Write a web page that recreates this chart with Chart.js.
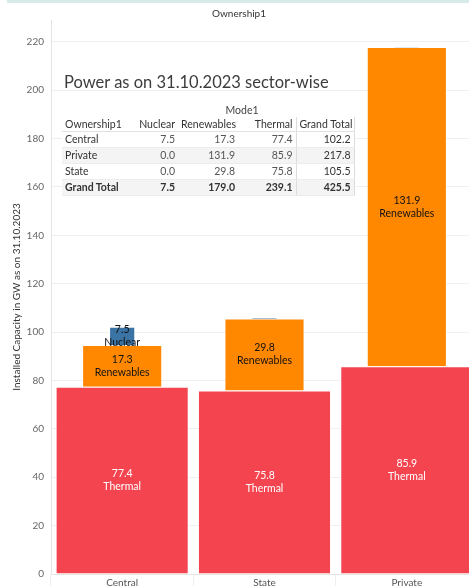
<!DOCTYPE html>
<html lang="en">
<head>
  <meta charset="UTF-8">
  <title>Power as on 31.10.2023 sector-wise</title>
  <script src="https://cdn.jsdelivr.net/npm/chart.js"></script>
  <style>
    html, body { margin: 0; padding: 0; background: #fff; overflow: hidden; width: 469px; height: 587px; }
    body { position: relative; font-family: Lato, "Open Sans", sans-serif; }
    #topBand { position: absolute; left: 7px; top: 0; width: 470px; height: 3px; background: #d7ecea; z-index: 2; }
    #wrap { position: absolute; left: 0; top: 0; width: 478px; height: 587px; }
    #heading { position: absolute; left: 64px; top: 72px; font-size: 16.5px; color: #3c3c3c; white-space: nowrap; }
    #summary { position: absolute; left: 62px; top: 103px; width: 292px; border-collapse: collapse; table-layout: fixed;
               background: #fff; font-size: 10.5px; color: #333; }
    #summary td, #summary th { padding: 0 3px; font-weight: normal; white-space: nowrap; overflow: hidden; }
    #summary .mode td { height: 14px; line-height: 14px; text-align: center; color: #444; }
    #summary .head th { height: 14px; line-height: 14px; border-bottom: 1px solid #e2e2e2; }
    #summary .row td { height: 15px; line-height: 15px; border-bottom: 1px solid #ececec; }
    #summary .alt td { background: #f4f4f4; }
    #summary .num { text-align: right; color: #555; }
    #summary .tot { text-align: right; border-left: 1px solid #dcdcdc; border-right: 1px solid #dcdcdc; color: #333; }
    #summary .gt td { font-weight: bold; color: #333; }
  </style>
</head>
<body>
  <div id="topBand"></div>
  <div id="wrap"><canvas id="capacityChart" width="478" height="587"></canvas></div>
  <div id="heading">Power as on 31.10.2023 sector-wise</div>
  <table id="summary"></table>

  <script>
    // installed capacity (GW) by ownership and mode
    const categories = ['Central', 'State', 'Private'];
    const thermal = [77.4, 75.8, 85.9];
    const renewables = [17.3, 29.8, 131.9];
    const nuclear = [7.5, 0.0, 0.0];

    // crosstab rows, totals as published
    const tableOrder = ['Central', 'Private', 'State'];
    const rowTotals = [102.2, 217.8, 105.5];
    const modeTotals = [7.5, 179.0, 239.1];
    const grandTotal = 425.5;

    const yTicks = [0, 20, 40, 60, 80, 100, 120, 140, 160, 180, 200, 220];

    // build the summary table
    function buildTable() {
      const t = document.getElementById('summary');
      let html = '<colgroup><col style="width:68px"><col style="width:48px"><col style="width:60px"><col style="width:58px"><col style="width:58px"></colgroup>';
      html += '<tr class="mode"><td></td><td colspan="4">Mode1</td></tr>';
      html += '<tr class="head"><th style="text-align:left">Ownership1</th><th class="num" style="color:#333">Nuclear</th>' +
              '<th class="num" style="color:#333">Renewables</th><th class="num" style="color:#333">Thermal</th><th class="tot">Grand Total</th></tr>';
      tableOrder.forEach((name, r) => {
        const i = categories.indexOf(name);
        html += '<tr class="row' + (r % 2 ? ' alt' : '') + '"><td>' + name + '</td>' +
                '<td class="num">' + nuclear[i].toFixed(1) + '</td>' +
                '<td class="num">' + renewables[i].toFixed(1) + '</td>' +
                '<td class="num">' + thermal[i].toFixed(1) + '</td>' +
                '<td class="tot">' + rowTotals[r].toFixed(1) + '</td></tr>';
      });
      html += '<tr class="row alt gt"><td>Grand Total</td>' +
              modeTotals.map(v => '<td class="num" style="color:#333">' + v.toFixed(1) + '</td>').join('') +
              '<td class="tot">' + grandTotal.toFixed(1) + '</td></tr>';
      t.innerHTML = html;
    }
    buildTable();

    // value + mode name centred in each segment
    const segmentLabels = {
      id: 'segmentLabels',
      afterDatasetsDraw(chart) {
        const ctx = chart.ctx;
        ctx.save();
        ctx.font = '10.5px Lato';
        ctx.textAlign = 'center';
        ctx.textBaseline = 'middle';
        chart.data.datasets.forEach((ds, di) => {
          const meta = chart.getDatasetMeta(di);
          meta.data.forEach((bar, i) => {
            const v = ds.data[i];
            if (!v) return;
            const cy = (bar.y + bar.base) / 2;
            ctx.fillStyle = ds.labelColor;
            ctx.fillText(v.toFixed(1), bar.x, cy - 6.5);
            ctx.fillText(ds.label, bar.x, cy + 6.5);
          });
        });
        ctx.restore();
      }
    };

    new Chart(document.getElementById('capacityChart'), {
      type: 'bar',
      data: {
        labels: categories,
        datasets: [
          { label: 'Thermal', data: thermal, backgroundColor: '#f4444f', borderColor: 'rgba(255,255,255,0.45)',
            borderWidth: 1, barPercentage: 0.935, categoryPercentage: 1, labelColor: '#ffffff' },
          { label: 'Renewables', data: renewables, backgroundColor: '#ff8800', borderColor: 'rgba(255,255,255,0.45)',
            borderWidth: 1, barPercentage: 0.563, categoryPercentage: 1, labelColor: '#111111' },
          { label: 'Nuclear', data: nuclear, backgroundColor: '#3b73a4', borderColor: 'rgba(255,255,255,0.45)',
            borderWidth: 1, barPercentage: 0.184, categoryPercentage: 1, minBarLength: 1, labelColor: '#111111' }
        ]
      },
      options: {
        responsive: false,
        animation: false,
        devicePixelRatio: 1,
        layout: { padding: 0 },
        plugins: {
          legend: { display: false },
          tooltip: { enabled: false },
          title: {
            display: true,
            text: 'Ownership1',
            color: '#333',
            font: { family: 'Lato', size: 10, weight: 'normal' },
            padding: { top: 8, bottom: 0 }
          }
        },
        scales: {
          x: {
            stacked: true,
            grid: { offset: true, drawOnChartArea: false, drawTicks: true, tickLength: 12, color: '#eeeeee' },
            border: { color: '#e6e6e6' },
            ticks: { color: '#555', font: { family: 'Lato', size: 10 }, padding: -9 },
            afterFit(scale) { scale.height = 13; }
          },
          y: {
            stacked: true,
            min: 0,
            max: 229,
            grid: { color: '#efefef', drawTicks: false },
            border: { color: '#e4e4e4' },
            ticks: {
              stepSize: 20,
              includeBounds: false,
              padding: 7,
              color: '#666',
              font: { family: 'Lato', size: 10 }
            },
            afterBuildTicks(scale) { scale.ticks = yTicks.map(v => ({ value: v })); },
            title: {
              display: true,
              text: 'Installed Capacity in GW as on 31.10.2023',
              color: '#333',
              font: { family: 'Lato', size: 10 },
              padding: { top: 11, bottom: 0 }
            },
            afterFit(scale) { scale.width = 51; }
          }
        }
      },
      plugins: [segmentLabels]
    });
  </script>
</body>
</html>
